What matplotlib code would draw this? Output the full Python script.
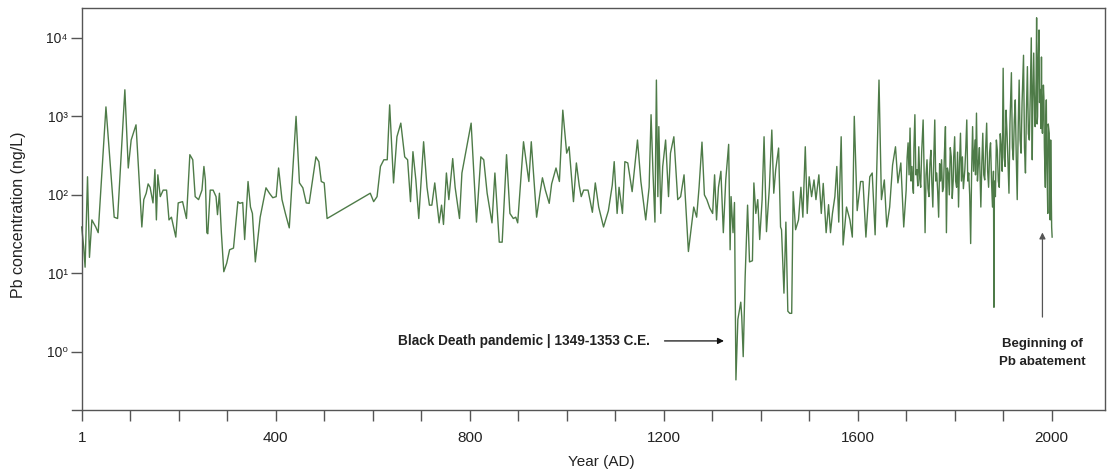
import matplotlib
matplotlib.use("Agg")
import matplotlib.pyplot as plt

plt.rcParams["font.family"] = ["Liberation Sans", "DejaVu Sans"]

# Pb concentration in ice core (ng/L)
years = [0, 4, 7, 12, 16, 21, 29, 34, 50, 67, 74, 89, 96, 102, 112, 124, 128, 133, 137, 141,
         147, 151, 154, 157, 162, 168, 175, 180, 185, 194, 199, 208, 216, 223, 229, 234, 241, 248, 252, 255,
         258, 260, 265, 271, 277, 280, 284, 288, 293, 299, 305, 313, 322, 326, 332, 336, 343, 348, 352, 358,
         368, 380, 387, 394, 401, 406, 413, 420, 428, 442, 449, 456, 463, 469, 476, 483, 489, 494, 500, 506,
         595, 602, 609, 616, 623, 630, 635, 643, 650, 658, 666, 672, 678, 683, 689, 695, 705, 712, 717, 722,
         728, 737, 742, 746, 752, 757, 765, 770, 779, 784, 803, 814, 823, 829, 836, 846, 852, 861, 867, 876,
         883, 890, 895, 899, 911, 922, 927, 938, 945, 950, 956, 964, 969, 978, 985, 992, 1000, 1005, 1014, 1020,
         1026, 1030, 1035, 1044, 1053, 1059, 1066, 1076, 1086, 1094, 1098, 1104, 1108, 1115, 1120, 1126, 1135, 1146, 1153, 1163,
         1170, 1174, 1178, 1182, 1185, 1188, 1190, 1194, 1198, 1204, 1210, 1214, 1221, 1229, 1235, 1242, 1251, 1257, 1262, 1268,
         1273, 1279, 1284, 1289, 1295, 1301, 1305, 1309, 1313, 1318, 1323, 1328, 1334, 1337, 1339, 1343, 1346, 1349, 1353, 1359,
         1361, 1364, 1368, 1373, 1377, 1383, 1386, 1390, 1394, 1398, 1403, 1407, 1412, 1418, 1423, 1427, 1431, 1437, 1441, 1443,
         1448, 1452, 1456, 1460, 1464, 1467, 1472, 1478, 1483, 1487, 1492, 1496, 1500, 1505, 1510, 1514, 1520, 1525, 1529, 1535,
         1540, 1544, 1548, 1553, 1557, 1561, 1566, 1570, 1577, 1584, 1589, 1593, 1599, 1606, 1611, 1617, 1625, 1630, 1636, 1644,
         1649, 1655, 1660, 1666, 1672, 1678, 1683, 1689, 1695,
         1700, 1702, 1704, 1706, 1708, 1710, 1712, 1714, 1715, 1716, 1718, 1720, 1722, 1724, 1726, 1728, 1730, 1732, 1735, 1737,
         1739, 1741, 1743, 1745, 1747, 1749, 1751, 1753, 1755, 1757, 1759, 1761, 1763, 1765, 1767, 1769, 1771, 1773, 1775, 1777,
         1779, 1781, 1783, 1785, 1787, 1789, 1791, 1793, 1795, 1797, 1798, 1800, 1802, 1804, 1806, 1808, 1810, 1812, 1814, 1816,
         1818, 1821, 1823, 1825, 1827, 1829, 1831, 1833, 1835, 1837, 1839, 1842, 1843, 1845, 1847, 1849, 1851, 1854, 1856, 1858,
         1860, 1862, 1864, 1866, 1868, 1870, 1872, 1874, 1876, 1878, 1880, 1881, 1882, 1884, 1886, 1888, 1890, 1892, 1894, 1896,
         1898, 1900, 1902, 1904, 1906, 1908, 1910, 1912, 1914, 1917, 1919, 1921, 1923, 1925, 1927, 1929, 1931, 1933, 1935, 1937,
         1939, 1942, 1944, 1946, 1948, 1950, 1952, 1954, 1956, 1958, 1960, 1961, 1963, 1965, 1966, 1968, 1969, 1970, 1971, 1972,
         1974, 1975, 1977, 1978, 1979, 1980, 1981, 1983, 1984, 1985, 1987, 1988, 1989, 1990, 1992, 1993, 1995, 1996, 1997, 1998,
         2000, 2001]

pb = [39, 22, 12, 170, 16, 48, 39, 33, 1320, 52, 50, 2180, 220, 500, 780, 39, 87, 105, 138, 125,
      79, 210, 48, 180, 95, 115, 115, 48, 52, 29, 79, 82, 50, 325, 280, 95, 87, 115, 230, 155,
      33, 32, 115, 115, 95, 56, 105, 33, 10.5, 13.5, 20, 21, 82, 78, 80, 27, 148, 70, 58, 14,
      52, 123, 105, 92, 95, 220, 87, 58, 38, 1000, 142, 123, 79, 78, 155, 305, 265, 148, 142, 50,
      105, 82, 95, 230, 280, 280, 1400, 142, 550, 820, 305, 280, 82, 355, 155, 50, 475, 125, 74, 74,
      142, 44, 74, 42, 190, 87, 290, 125, 50, 190, 820, 45, 305, 280, 105, 44, 190, 25, 25, 325,
      58, 50, 52, 44, 475, 148, 475, 52, 105, 165, 115, 78, 138, 220, 148, 1200, 340, 410, 82, 255,
      130, 95, 115, 115, 60, 142, 70, 39, 63, 133, 265, 58, 125, 58, 265, 255, 110, 500, 148, 48,
      125, 1050, 190, 45, 2900, 95, 740, 58, 230, 500, 95, 340, 550, 87, 95, 180, 19, 39, 70, 52,
      125, 470, 100, 87, 68, 58, 180, 48, 125, 200, 33, 155, 440, 20, 95, 33, 80, 0.44, 2.6, 4.3,
      2.8, 0.87, 9, 74, 14, 14.5, 142, 58, 87, 27, 87, 550, 34, 125, 670, 105, 210, 395, 39, 36,
      5.6, 45, 3.3, 3.1, 3.1, 110, 36, 48, 125, 52, 410, 58, 170, 95, 155, 87, 180, 58, 140, 33,
      75, 33, 58, 95, 230, 45, 550, 23, 70, 48, 29, 1000, 63, 148, 148, 29, 170, 190, 31, 2900,
      87, 155, 39, 70, 240, 410, 142, 255, 39,
      115, 300, 460, 180, 710, 150, 230, 120, 105, 400, 1050, 180, 210, 130, 410, 160, 125, 350, 900, 200,
      33, 180, 280, 120, 95, 250, 370, 140, 70, 300, 900, 150, 190, 110, 52, 250, 150, 280, 110, 125,
      350, 740, 33, 220, 190, 100, 400, 305, 90, 150, 300, 550, 150, 125, 350, 70, 250, 610, 150, 305,
      120, 210, 400, 900, 150, 190, 100, 24, 200, 740, 200, 500, 180, 1100, 150, 255, 400, 70, 250, 610,
      180, 155, 400, 820, 200, 125, 350, 460, 150, 70, 200, 3.7, 150, 95, 500, 370, 150, 125, 600, 410,
      200, 4100, 300, 230, 1200, 610, 250, 105, 800, 3600, 400, 280, 900, 1620, 300, 87, 700, 2900, 500, 340,
      1500, 6000, 400, 190, 1200, 4300, 600, 500, 2000, 10000, 280, 1500, 6400, 900, 740, 3000, 18000, 800, 1000, 5000,
      12600, 1500, 2200, 700, 5700, 900, 610, 2500, 1750, 400, 125, 900, 1620, 300, 58, 800, 610, 150, 48, 500,
      39, 29]

xticks = list(range(0, 2001, 100))
xlabels = {0: "1", 400: "400", 800: "800", 1200: "1200", 1600: "1600", 2000: "2000"}
yticks = [1, 10, 100, 1000, 10000]
ylabels = ["10⁰", "10¹", "10²", "10³", "10⁴"]

fig = plt.figure(figsize=(11.07, 4.74), dpi=100)
ax = fig.add_axes([72 / 1107, 64 / 474, 1033 / 1107, 402 / 474])

ax.plot(years, pb, color="#4e7b48", lw=1.0)

ax.set_yscale("log")
ax.set_xlim(-20, 2110)
ax.set_ylim(0.182, 24000)

ax.set_xticks(xticks)
ax.set_xticklabels([xlabels.get(t, "") for t in xticks])
ax.set_yticks(yticks)
ax.set_yticklabels(ylabels)
ax.minorticks_off()
ax.tick_params(axis="x", direction="out", length=8, width=1, color="#555555",
               labelsize=11, pad=7, labelcolor="#222222")
ax.tick_params(axis="y", direction="out", length=8, width=1, color="#555555",
               labelsize=10, pad=2, labelcolor="#222222")

for s in ax.spines.values():
    s.set_color("#555555")
    s.set_linewidth(1.0)
ax.spines["left"].set_position(("data", 0))
ax.spines["top"].set_bounds(0, 2110)

fig.text(601 / 1107, 1 - 462 / 474, "Year (AD)", ha="center", va="center",
         fontsize=11, color="#222222")
fig.text(18 / 1107, 1 - 215 / 474, "Pb concentration (ng/L)", ha="center", va="center",
         rotation=90, fontsize=11.5, color="#222222")

# Black Death annotation
ax.annotate("", xy=(1330, 1.38), xytext=(1196, 1.38),
            arrowprops=dict(arrowstyle="-|>", color="#111111", lw=0.9, mutation_scale=9))
ax.text(1171, 1.38, "Black Death pandemic | 1349-1353 C.E.", ha="right", va="center",
        fontsize=9.8, fontweight="bold", color="#222222")

# Pb abatement annotation
ax.annotate("", xy=(1981, 36), xytext=(1981, 2.56),
            arrowprops=dict(arrowstyle="-|>", color="#555555", lw=0.9, mutation_scale=9))
ax.text(1981, 0.97, "Beginning of\nPb abatement", ha="center", va="center",
        fontsize=9.5, fontweight="bold", color="#222222", linespacing=1.6)

fig.savefig("out.png", dpi=100)
